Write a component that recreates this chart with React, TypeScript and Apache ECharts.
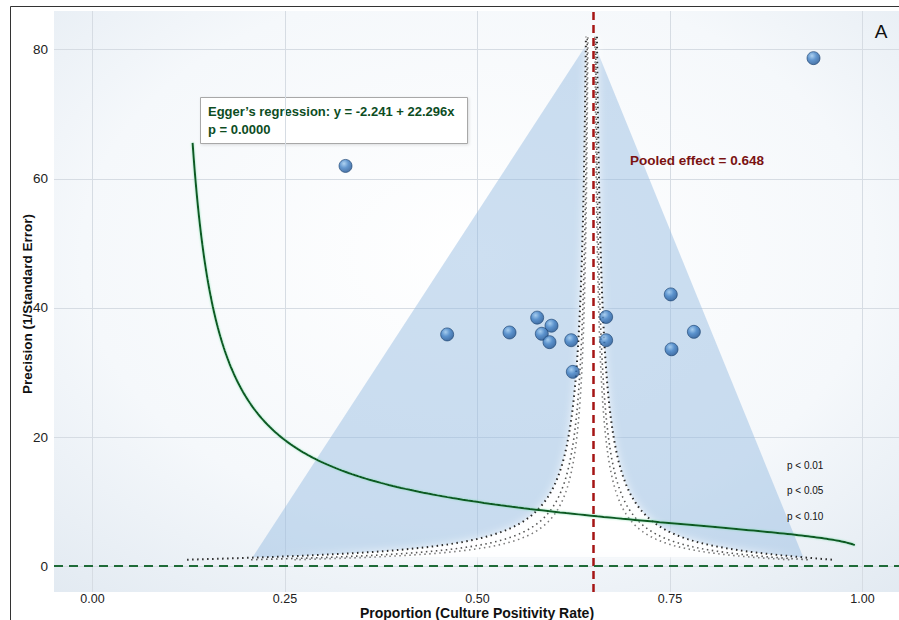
import React, { useEffect, useRef } from "react";
import * as echarts from "echarts";

// ---- Study data ----
const studyProportion = [0.9364, 0.3286, 0.4606, 0.5416, 0.5775, 0.5961, 0.5835, 0.5935, 0.6217, 0.6238, 0.6671, 0.6671, 0.751, 0.752, 0.781];
const studyPrecision = [78.7, 62.0, 35.9, 36.2, 38.5, 37.25, 36.0, 34.7, 35.0, 30.1, 38.6, 35.0, 42.1, 33.6, 36.3];

// ---- Axis ticks ----
const xTickValues = [0, 0.25, 0.5, 0.75, 1.0];
const yTickValues = [0, 20, 40, 60, 80];
const xAxisTitle = "Proportion (Culture Positivity Rate)";
const yAxisTitle = "Precision (1/Standard Error)";

// ---- Model parameters (from the annotations) ----
const pooledEffect = 0.648;
const eggerIntercept = -2.241;
const eggerSlope = 22.296;
const eggerPValue = "0.0000";
const contourZ = [2.576, 1.96, 1.645];
const contourLabels = ["p < 0.01", "p < 0.05", "p < 0.10"];
const contourColors = ["#2a2a2a", "#555555", "#7a7a7a"];
const contourPrecisionRange = [1, 82];
const eggerProportionRange = [0.13, 0.99];

// ---- Funnel triangle vertices ----
const funnelX = [0.648, 0.208, 0.923];
const funnelY = [82, 1.4, 1.4];

const logit = (p: number) => Math.log(p / (1 - p));
const invlogit = (l: number) => 1 / (1 + Math.exp(-l));

function contourCurve(z: number, sign: number, lo: number, hi: number, n = 160): number[][] {
  const pts: number[][] = [];
  const L = logit(pooledEffect);
  for (let i = 0; i <= n; i++) {
    const prec = lo * Math.pow(hi / lo, i / n);
    pts.push([invlogit(L + (sign * z) / prec), prec]);
  }
  return pts;
}

function eggerCurve(n = 240): number[][] {
  const t0 = (logit(eggerProportionRange[0]) - eggerIntercept) / eggerSlope;
  const t1 = (logit(eggerProportionRange[1]) - eggerIntercept) / eggerSlope;
  const pts: number[][] = [];
  for (let i = 0; i <= n; i++) {
    const t = t0 * Math.pow(t1 / t0, i / n);
    pts.push([invlogit(eggerIntercept + eggerSlope * t), 1 / t]);
  }
  return pts;
}

const FONT = "'Liberation Sans', Arial, Helvetica, sans-serif";

export default function App() {
  const ref = useRef<HTMLDivElement>(null);

  useEffect(() => {
    if (!ref.current) return;
    const chart = echarts.init(ref.current, null, { renderer: "svg" });

    const trianglePts = funnelX.map((x, i) => [x, funnelY[i]]);
    const baseY = funnelY[1];
    const leftOuter = contourCurve(contourZ[0], -1, baseY, contourPrecisionRange[1]);
    const rightOuter = contourCurve(contourZ[0], 1, baseY, contourPrecisionRange[1]).reverse();
    const whitePts = leftOuter.concat(rightOuter);

    const contourSeries: any[] = [];
    contourZ.forEach((z, k) => {
      [-1, 1].forEach((s) => {
        contourSeries.push({
          type: "line",
          name: contourLabels[k],
          data: contourCurve(z, s, contourPrecisionRange[0], contourPrecisionRange[1]),
          showSymbol: false,
          symbol: "none",
          silent: true,
          z: 4,
          lineStyle: { color: contourColors[k], width: k === 0 ? 2 : 1.6, type: [1.5, 3.5] },
        });
      });
    });

    const polygonSeries = (pts: number[][], style: any, z: number) => ({
      type: "custom",
      silent: true,
      z,
      data: [[0.5, 40]],
      renderItem: (_p: any, api: any) => ({
        type: "polygon",
        shape: { points: pts.map((p) => api.coord(p)) },
        style: Object.assign({ stroke: "none" }, style),
      }),
    });

    const option: any = {
      animation: false,
      grid: {
        left: 54,
        right: -2,
        top: 11,
        bottom: 28,
        show: true,
        borderWidth: 0,
        outerBoundsMode: "none",
        backgroundColor: new echarts.graphic.RadialGradient(0.5, 0.42, 0.85, [
          { offset: 0, color: "#ffffff" },
          { offset: 0.55, color: "#f5f8fb" },
          { offset: 1, color: "#dde6ef" },
        ]),
      },
      xAxis: {
        type: "value",
        min: -0.05,
        max: 1.05,
        axisLine: { show: false },
        axisTick: { show: false, customValues: xTickValues },
        axisLabel: {
          customValues: xTickValues,
          formatter: (v: number) => v.toFixed(2),
          fontSize: 12.5,
          lineHeight: 12.5,
          color: "#222",
          fontFamily: FONT,
          margin: 1,
        },
        splitLine: { show: true, lineStyle: { color: "#d6dce3", width: 1 } },
      },
      yAxis: {
        type: "value",
        min: -4,
        max: 86,
        axisLine: { show: false },
        axisTick: { show: false, customValues: yTickValues },
        axisLabel: {
          customValues: yTickValues,
          fontSize: 13.5,
          color: "#222",
          fontFamily: FONT,
          margin: 6,
        },
        splitLine: { show: true, lineStyle: { color: "#d6dce3", width: 1 } },
      },
      series: [
        polygonSeries(trianglePts, { fill: "rgba(145,186,224,0.46)" }, 1),
        polygonSeries(whitePts, { fill: "rgba(255,255,255,0.94)", shadowColor: "rgba(255,255,255,0.9)", shadowBlur: 8 }, 2),
        ...contourSeries,
        {
          type: "line",
          name: "Egger",
          data: eggerCurve(),
          showSymbol: false,
          symbol: "none",
          silent: true,
          z: 5,
          lineStyle: { color: "#0b5a22", width: 2, shadowColor: "rgba(110,220,160,0.7)", shadowBlur: 2 },
          markLine: {
            silent: true,
            symbol: "none",
            label: { show: false },
            data: [
              { xAxis: pooledEffect, lineStyle: { color: "#a51515", width: 2.5, type: [8, 5] } },
              { yAxis: 0, lineStyle: { color: "#1f6b38", width: 2, type: [9, 6] } },
            ],
          },
        },
        {
          type: "scatter",
          name: "Studies",
          z: 6,
          symbolSize: 13,
          data: studyProportion.map((x, i) => [x, studyPrecision[i]]),
          itemStyle: {
            color: new echarts.graphic.RadialGradient(0.38, 0.32, 0.75, [
              { offset: 0, color: "#9cc8ee" },
              { offset: 0.45, color: "#3f7fc4" },
              { offset: 1, color: "#1c4d8a" },
            ]),
            borderColor: "#1b426f",
            borderWidth: 0.8,
          },
        },
      ],
      graphic: [
        {
          type: "rect",
          shape: { x: 10.5, y: 6.5, width: 900, height: 620 },
          style: { fill: "none", stroke: "#333", lineWidth: 1 },
          silent: true,
          z: 100,
        },
        {
          type: "text",
          x: 477,
          y: 613,
          z: 50,
          style: { text: xAxisTitle, fill: "#111", font: `bold 14px ${FONT}`, align: "center", verticalAlign: "middle" },
        },
        {
          type: "text",
          x: 27,
          y: 304,
          rotation: Math.PI / 2,
          z: 50,
          style: { text: yAxisTitle, fill: "#111", font: `bold 13.5px ${FONT}`, align: "center", verticalAlign: "middle" },
        },
        {
          type: "group",
          z: 50,
          children: [
            {
              type: "rect",
              shape: { x: 200.5, y: 97.5, width: 267, height: 46 },
              style: { fill: "#ffffff", stroke: "#a8a8a8", lineWidth: 1, shadowColor: "rgba(0,0,0,0.12)", shadowBlur: 3, shadowOffsetX: 1, shadowOffsetY: 1 },
            },
            {
              type: "text",
              x: 208,
              y: 111,
              style: {
                text: `Egger\u2019s regression: y = ${eggerIntercept} + ${eggerSlope}x`,
                fill: "#0d4d1f",
                font: `bold 13px ${FONT}`,
                verticalAlign: "middle",
              },
            },
            {
              type: "text",
              x: 208,
              y: 129,
              style: {
                text: `p = ${eggerPValue}`,
                fill: "#0d4d1f",
                font: `bold 13px ${FONT}`,
                verticalAlign: "middle",
              },
            },
          ],
        },
        {
          type: "text",
          x: 630,
          y: 160,
          z: 50,
          style: {
            text: `Pooled effect = ${pooledEffect}`,
            fill: "#7a1212",
            font: `bold 13.5px ${FONT}`,
            verticalAlign: "middle",
          },
        },
        ...contourLabels.map((t, i) => ({
          type: "text",
          x: 787,
          y: 465 + i * 25.5,
          z: 50,
          style: { text: t, fill: "#111", font: `10px ${FONT}`, verticalAlign: "middle" },
        })),
        {
          type: "text",
          x: 881,
          y: 31,
          z: 50,
          style: { text: "A", fill: "#111", font: `19px ${FONT}`, align: "center", verticalAlign: "middle" },
        },
      ],
    };

    chart.setOption(option);
    return () => chart.dispose();
  }, []);

  return <div ref={ref} style={{ width: 899, height: 620, position: "absolute", left: 0, top: 0, background: "#fff" }} />;
}
